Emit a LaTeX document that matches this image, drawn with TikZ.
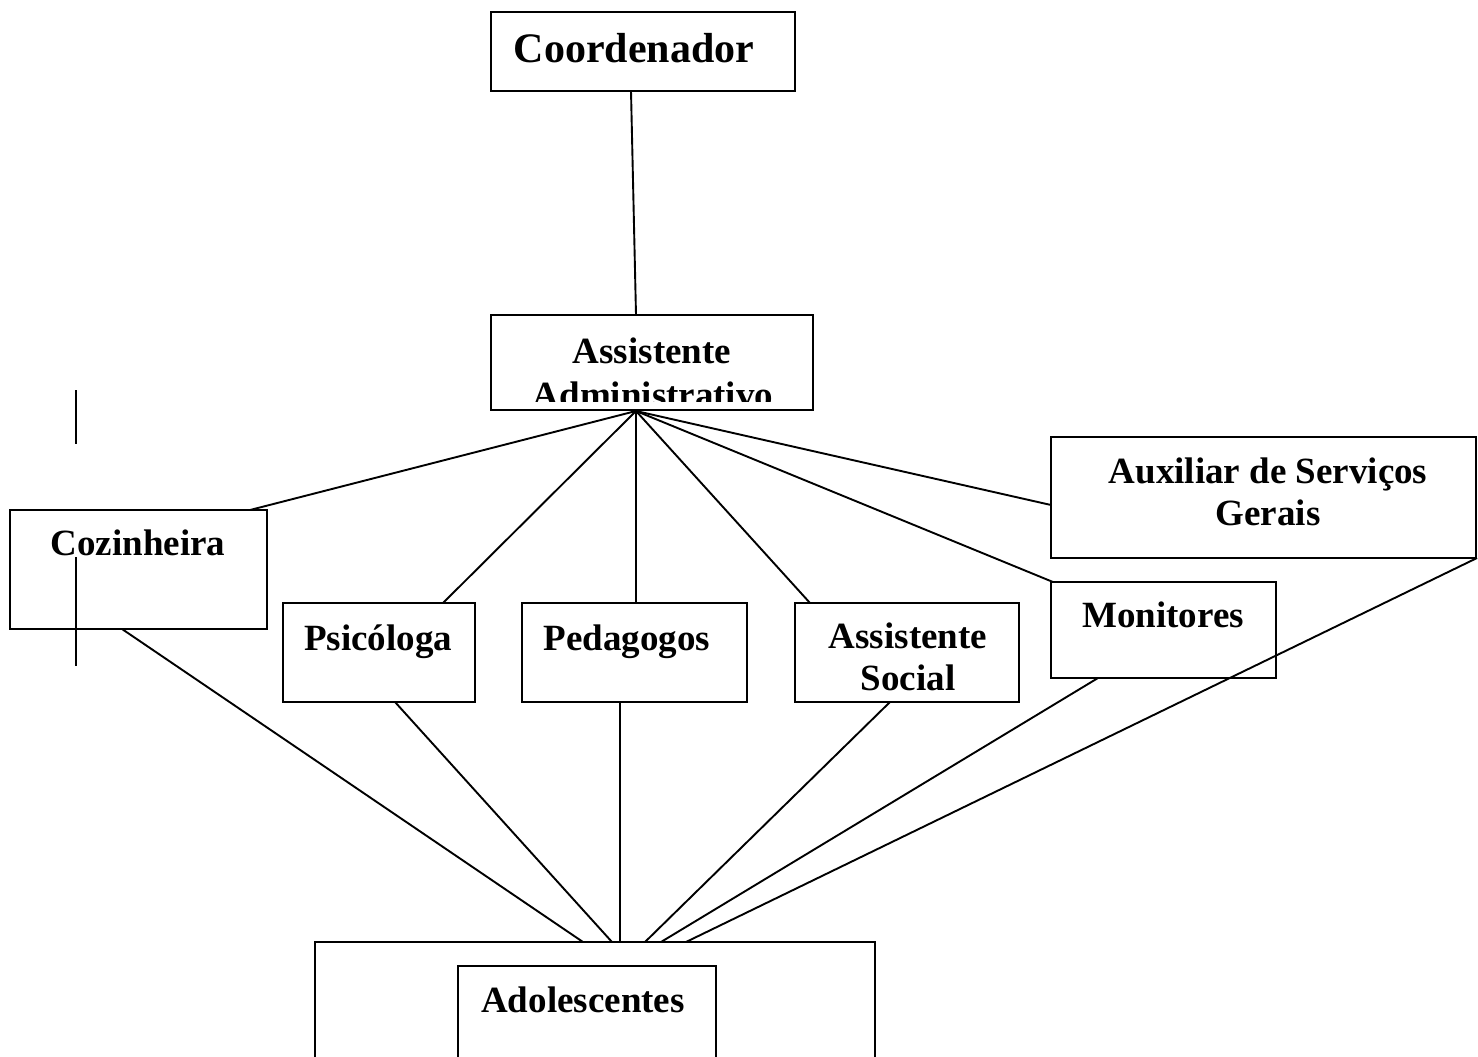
\documentclass[tikz,border=0pt]{standalone}
\usepackage{fontspec}
\setmainfont{Liberation Serif}
\begin{document}
\begin{tikzpicture}[x=1pt,y=-1pt,line width=2pt,
  box/.style={draw=black,rectangle,inner sep=0pt,line width=2pt},
  lbl/.style={anchor=base,inner sep=0pt,font=\fontsize{37}{42}\selectfont\bfseries},
  conn/.style={draw=black,line width=1.9pt}]
\useasboundingbox (0,0) rectangle (1478,1057);
% boxes (corners in pixel coordinates)
\node[box,minimum width=304pt,minimum height=79pt] (coord) at (643,51.5) {};
\node[box,minimum width=322pt,minimum height=95pt] (admin) at (652,362.5) {};
\node[box,minimum width=257pt,minimum height=119pt] (coz) at (138.5,569.5) {};
\node[box,minimum width=192pt,minimum height=99pt] (psi) at (379,652.5) {};
\node[box,minimum width=225pt,minimum height=99pt] (ped) at (634.5,652.5) {};
\node[box,minimum width=224pt,minimum height=99pt] (soc) at (907,652.5) {};
\node[box,minimum width=225pt,minimum height=96pt] (mon) at (1163.5,630) {};
\node[box,minimum width=425pt,minimum height=121pt] (aux) at (1263.5,497.5) {};
\draw[line width=2pt] (315,1060) -- (315,942) -- (875,942) -- (875,1060);
\coordinate (ado) at (315,942);
\draw[line width=2pt] (458,1060) -- (458,966) -- (716,966) -- (716,1060);
% texts
\node[lbl,font=\fontsize{42}{48}\selectfont\bfseries] (tcoord) at (634,63) {Coordenador};
\node[lbl] (tadmin1) at (652,363) {Assistente};
\begin{scope}
\clip (491,370) rectangle (813,401);
\node[lbl] (tadmin2) at (653,407) {Administrativo};
\end{scope}
\node[lbl] (tcoz) at (138,555) {Cozinheira};
\node[lbl] (tpsi) at (378,650) {Psicóloga};
\node[lbl] (tped) at (627,650) {Pedagogos};
\node[lbl] (tsoc1) at (908,648) {Assistente};
\node[lbl] (tsoc2) at (908,690) {Social};
\node[lbl] (tmon) at (1163,627) {Monitores};
\node[lbl] (taux1) at (1268,483) {Auxiliar de Serviços};
\node[lbl] (taux2) at (1268,525) {Gerais};
\node[lbl] (tado) at (583,1012) {Adolescentes};
% connectors
\coordinate (hub) at (636,411);
\coordinate (c1) at (631,91);
\coordinate (c2) at (636,315);
\draw[conn] (c1) -- (c2);
\coordinate (cozt) at (250,510);
\coordinate (psit) at (443,603);
\coordinate (pedt) at (636,603);
\coordinate (soct) at (810,603);
\coordinate (mont) at (1053,582);
\coordinate (auxl) at (1051,505);
\draw[conn] (hub) -- (cozt);
\draw[conn] (hub) -- (psit);
\draw[conn] (hub) -- (pedt);
\draw[conn] (hub) -- (soct);
\draw[conn] (hub) -- (mont);
\draw[conn] (hub) -- (auxl);
\coordinate (cozb) at (122,629);
\coordinate (psib) at (395,702);
\coordinate (pedb) at (620,702);
\coordinate (socb) at (890,702);
\coordinate (monb) at (1098,678);
\coordinate (auxb) at (1477,558);
\coordinate (a1) at (583,942);
\coordinate (a2) at (612,942);
\coordinate (a3) at (620,942);
\coordinate (a4) at (645,942);
\coordinate (a5) at (661,942);
\coordinate (a6) at (686,942);
\draw[conn] (cozb) -- (a1);
\draw[conn] (psib) -- (a2);
\draw[conn] (pedb) -- (a3);
\draw[conn] (socb) -- (a4);
\draw[conn] (monb) -- (a5);
\draw[conn] (auxb) -- (a6);
% stray vertical strokes
\draw[line width=2pt] (76,390) -- (76,444);
\draw[line width=2pt] (76,557) -- (76,666);
\end{tikzpicture}
\end{document}
